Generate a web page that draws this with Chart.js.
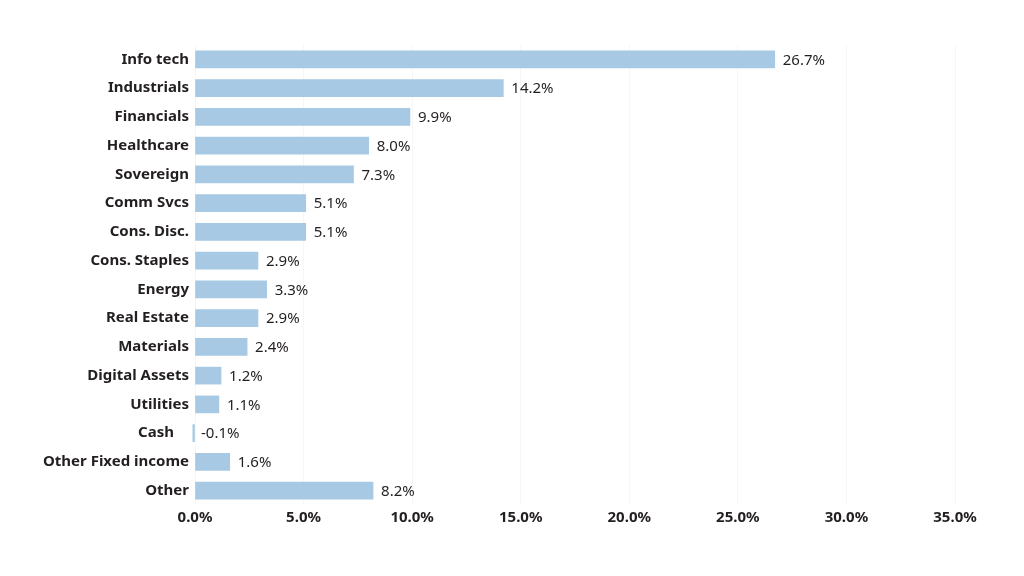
<!DOCTYPE html>
<html>
<head>
<meta charset="utf-8">
<script src="https://cdn.jsdelivr.net/npm/chart.js@4/dist/chart.umd.min.js"></script>
<style>
  html, body { margin: 0; padding: 0; background: #fff; }
  #wrap { width: 1024px; height: 576px; }
</style>
</head>
<body>
<div id="wrap"><canvas id="sectors"></canvas></div>
<script>
var sectors = ['Info tech', 'Industrials', 'Financials', 'Healthcare', 'Sovereign', 'Comm Svcs',
    'Cons. Disc.', 'Cons. Staples', 'Energy', 'Real Estate', 'Materials', 'Digital Assets',
    'Utilities', 'Cash', 'Other Fixed income', 'Other'];
var weights = [26.7, 14.2, 9.9, 8.0, 7.3, 5.1, 5.1, 2.9, 3.3, 2.9, 2.4, 1.2, 1.1, -0.1, 1.6, 8.2];
var xTicks = [0, 5, 10, 15, 20, 25, 30, 35];

var inkColor = '#231f20';
var barColor = '#a7c9e3';

// value labels at the end of each bar (right of zero for negatives)
var valueLabels = {
    id: 'valueLabels',
    afterDatasetsDraw: function(chart) {
        var ctx = chart.ctx;
        var meta = chart.getDatasetMeta(0);
        var xScale = chart.scales.x;
        ctx.save();
        ctx.font = '15px "Noto Sans"';
        ctx.fillStyle = inkColor;
        ctx.textAlign = 'left';
        ctx.textBaseline = 'middle';
        meta.data.forEach(function(bar, i) {
            var v = weights[i];
            var x = Math.max(bar.x, xScale.getPixelForValue(0));
            ctx.fillText(v.toFixed(1) + '%', x + (v < 0 ? 6 : 8), bar.y + 1);
        });
        ctx.restore();
    }
};

new Chart(document.getElementById('sectors'), {
    type: 'bar',
    data: {
        labels: sectors,
        datasets: [{
            data: weights,
            backgroundColor: barColor,
            borderWidth: 0,
            barThickness: 17,
            clip: false
        }]
    },
    options: {
        indexAxis: 'y',
        responsive: true,
        maintainAspectRatio: false,
        animation: false,
        layout: { padding: { top: 45, right: 69, left: 0, bottom: 0 } },
        scales: {
            x: {
                min: 0,
                max: 35,
                afterBuildTicks: function(axis) {
                    axis.ticks = xTicks.map(function(v) { return { value: v }; });
                },
                afterFit: function(axis) { axis.height = 71; },
                grid: { color: '#f6f6f6', drawTicks: false },
                border: { display: false },
                ticks: {
                    padding: 4,
                    color: inkColor,
                    font: { family: 'Noto Sans', size: 15, weight: 'bold' },
                    callback: function(v) { return Number(v).toFixed(1) + '%'; }
                }
            },
            y: {
                afterFit: function(axis) { axis.width = 195; },
                grid: { display: false, drawTicks: false },
                border: { display: false },
                ticks: {
                    padding: 6,
                    color: inkColor,
                    font: { family: 'Noto Sans', size: 15, weight: 'bold' },
                    callback: function(v, i) {
                        // shift the label clear of a negative bar
                        return weights[i] < 0 ? sectors[i] + '\u2002\u2002' : sectors[i];
                    }
                }
            }
        },
        plugins: {
            legend: { display: false },
            tooltip: { enabled: false }
        }
    },
    plugins: [valueLabels]
});
</script>
</body>
</html>
